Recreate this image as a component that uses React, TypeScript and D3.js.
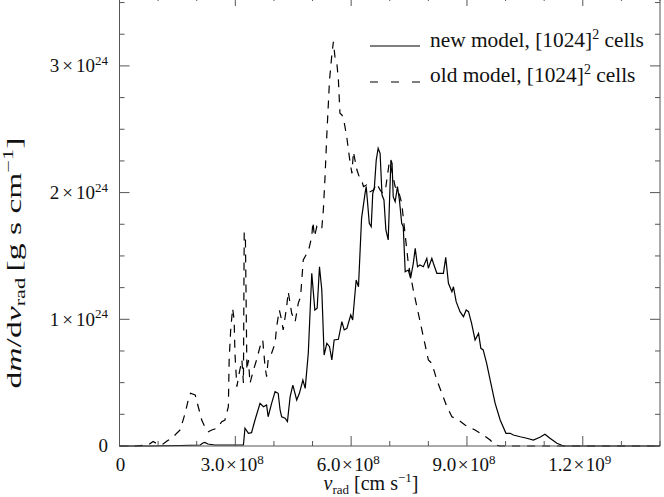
import React from "react";
import * as d3 from "d3";

// velocity in units of 1e8 cm/s, dm/dv in units of 1e24 g s/cm
const newX = [0, 0.79, 1.57, 2.09, 2.16, 2.21, 2.29, 2.47, 2.73, 2.99, 3.15, 3.21, 3.25, 3.34, 3.42, 3.51, 3.64, 3.73, 3.81, 3.85, 3.94, 4.03, 4.11, 4.16, 4.2, 4.29, 4.35, 4.42, 4.49, 4.59, 4.66, 4.75, 4.81, 4.89, 4.98, 5.06, 5.12, 5.18, 5.24, 5.3, 5.37, 5.44, 5.5, 5.56, 5.67, 5.76, 5.82, 5.89, 5.99, 6.04, 6.13, 6.19, 6.27, 6.36, 6.39, 6.42, 6.47, 6.52, 6.56, 6.6, 6.65, 6.7, 6.75, 6.8, 6.85, 6.9, 6.96, 7.03, 7.06, 7.09, 7.14, 7.2, 7.25, 7.31, 7.35, 7.4, 7.48, 7.54, 7.61, 7.66, 7.72, 7.78, 7.87, 7.96, 8.0, 8.09, 8.13, 8.22, 8.3, 8.39, 8.45, 8.52, 8.61, 8.65, 8.72, 8.82, 8.91, 8.98, 9.04, 9.12, 9.21, 9.3, 9.36, 9.42, 9.51, 9.6, 9.73, 9.86, 10.01, 10.12, 10.2, 10.38, 10.55, 10.72, 10.89, 11.02, 11.15, 11.33, 11.5, 11.93, 14.0];
const newY = [0, 0, 0.004, 0.008, 0.024, 0.028, 0.016, 0.008, 0.008, 0.008, 0.008, 0.008, 0.14, 0.1, 0.105, 0.205, 0.337, 0.31, 0.324, 0.231, 0.337, 0.429, 0.416, 0.284, 0.231, 0.219, 0.192, 0.389, 0.481, 0.363, 0.416, 0.521, 0.455, 0.732, 1.363, 1.073, 1.087, 1.415, 1.231, 0.718, 0.811, 0.784, 0.679, 0.837, 0.842, 0.981, 0.916, 0.929, 1.034, 0.994, 1.31, 1.257, 1.797, 1.994, 2.047, 1.942, 1.758, 1.731, 1.994, 2.034, 2.257, 2.35, 2.31, 1.981, 1.942, 1.705, 1.626, 2.257, 2.231, 1.968, 1.928, 2.047, 1.942, 1.758, 1.731, 1.376, 1.389, 1.324, 1.442, 1.56, 1.415, 1.429, 1.415, 1.481, 1.403, 1.481, 1.442, 1.363, 1.363, 1.363, 1.489, 1.284, 1.218, 1.257, 1.139, 1.06, 1.021, 1.073, 1.06, 0.968, 0.837, 0.889, 0.771, 0.758, 0.653, 0.521, 0.337, 0.205, 0.1, 0.1, 0.087, 0.073, 0.061, 0.047, 0.069, 0.092, 0.061, 0.021, 0, 0, 0];

const oldX = [0, 0.4, 0.74, 0.87, 1.0, 1.13, 1.23, 1.39, 1.49, 1.57, 1.7, 1.78, 1.84, 1.96, 2.04, 2.13, 2.21, 2.3, 2.39, 2.52, 2.65, 2.73, 2.82, 2.84, 2.88, 2.93, 2.97, 2.99, 3.04, 3.1, 3.17, 3.21, 3.23, 3.26, 3.3, 3.34, 3.38, 3.47, 3.55, 3.64, 3.71, 3.77, 3.81, 3.85, 3.94, 4.03, 4.07, 4.14, 4.2, 4.24, 4.33, 4.37, 4.46, 4.55, 4.63, 4.69, 4.76, 4.83, 4.89, 4.98, 5.01, 5.05, 5.11, 5.15, 5.24, 5.28, 5.32, 5.37, 5.44, 5.5, 5.54, 5.58, 5.63, 5.67, 5.71, 5.76, 5.8, 5.84, 5.89, 5.93, 5.97, 6.02, 6.06, 6.1, 6.15, 6.21, 6.27, 6.32, 6.4, 6.49, 6.58, 6.66, 6.75, 6.82, 6.9, 6.99, 7.05, 7.14, 7.22, 7.31, 7.4, 7.48, 7.61, 7.74, 7.87, 8.0, 8.09, 8.22, 8.35, 8.48, 8.61, 8.78, 8.95, 9.21, 9.42, 9.6, 9.73, 9.86, 11.41, 14.0];
const oldY = [0, 0, 0.008, 0.036, 0.012, 0.016, 0.039, 0.071, 0.103, 0.126, 0.258, 0.363, 0.416, 0.403, 0.31, 0.205, 0.152, 0.113, 0.126, 0.14, 0.192, 0.205, 0.31, 0.679, 0.916, 1.087, 0.994, 0.732, 0.468, 0.574, 0.679, 0.497, 1.681, 1.681, 0.6, 0.679, 0.495, 0.6, 0.679, 0.784, 0.837, 0.626, 0.547, 0.679, 0.732, 0.811, 0.942, 1.073, 0.994, 0.916, 1.099, 1.218, 1.047, 0.981, 1.126, 1.178, 1.468, 1.507, 1.534, 1.652, 1.77, 1.652, 1.731, 1.705, 1.718, 1.863, 2.099, 2.455, 2.889, 3.086, 3.191, 3.073, 3.02, 2.889, 2.626, 2.613, 2.586, 2.52, 2.431, 2.336, 2.244, 2.152, 2.323, 2.257, 2.178, 2.125, 2.099, 2.047, 2.06, 2.007, 2.021, 2.073, 2.021, 1.994, 2.047, 2.244, 2.178, 2.047, 2.021, 1.916, 1.665, 1.442, 1.231, 1.047, 0.863, 0.679, 0.653, 0.521, 0.416, 0.31, 0.231, 0.205, 0.166, 0.126, 0.087, 0.047, 0.008, 0, 0, 0];

const xMajorTicks = [0, 3, 6, 9, 12];
const xTickMantissa = ["0", "3.0", "6.0", "9.0", "1.2"];
const xTickExponent = ["", "8", "8", "8", "9"];
const yMajorTicks = [0, 1, 2, 3];
const yTickMantissa = ["0", "1", "2", "3"];
const yTickExponent = ["", "24", "24", "24"];
const legendLabels = ["new model, [1024]", "old model, [1024]"];

const FONT = "Liberation Serif, DejaVu Serif, Times New Roman, serif";

export default function App() {
  const W = 664, H = 497;
  const left = 119.5, right = 660, bottom = 446, top = -4;
  const x = d3.scaleLinear().domain([0, 14]).range([left, right]);
  const y = d3.scaleLinear().domain([0, (bottom - top) / 126.7]).range([bottom, top]);

  const line = d3.line<[number, number]>().x(d => x(d[0])).y(d => y(d[1]));
  const newPts = newX.map((v, i) => [v, newY[i]] as [number, number]);
  const oldPts = oldX.map((v, i) => [v, oldY[i]] as [number, number]);

  const xMinor = d3.range(0, 14.001, 1);
  const yMinor = d3.range(0, 3.51, 0.25);
  const axisColor = "#555";

  const tickFont = 19;
  const supFont = 13;
  const txt = { fontFamily: FONT } as React.CSSProperties;

  return (
    <svg width={W} height={H} style={{ position: "absolute", left: 0, top: 0, background: "#fff", fontFamily: FONT }}>
      {/* curves */}
      <path d={line(oldPts) || ""} fill="none" stroke="#000" strokeWidth={1.2} strokeDasharray="8,7" />
      <path d={line(newPts) || ""} fill="none" stroke="#000" strokeWidth={1.2} />

      {/* frame */}
      <rect x={left} y={top} width={right - left} height={bottom - top} fill="none" stroke={axisColor} strokeWidth={1} />

      {/* x ticks bottom & top */}
      {xMinor.map(v => {
        const major = xMajorTicks.includes(Math.round(v));
        const len = major ? 10 : 5;
        return (
          <g key={"xt" + v}>
            <line x1={x(v)} x2={x(v)} y1={bottom} y2={bottom - len} stroke={axisColor} />
            <line x1={x(v)} x2={x(v)} y1={top} y2={top + len} stroke={axisColor} />
          </g>
        );
      })}
      {/* y ticks left & right */}
      {yMinor.map(v => {
        const major = yMajorTicks.includes(v);
        const len = major ? 10 : 5;
        return (
          <g key={"yt" + v}>
            <line x1={left} x2={left + len} y1={y(v)} y2={y(v)} stroke={axisColor} />
            <line x1={right} x2={right - len} y1={y(v)} y2={y(v)} stroke={axisColor} />
          </g>
        );
      })}

      {/* x tick labels */}
      {xMajorTicks.map((v, i) => (
        <text key={"xl" + v} x={x(v) - (i === 0 ? -1 : 3)} y={471} textAnchor="middle" fontSize={tickFont} fill="#111" style={txt}>
          {xTickExponent[i] === "" ? (
            xTickMantissa[i]
          ) : (
            <>
              {xTickMantissa[i]}
              <tspan dx={1.5}>×</tspan>
              <tspan dx={1.5}>10</tspan>
              <tspan dy={-7.5} fontSize={supFont}>{xTickExponent[i]}</tspan>
            </>
          )}
        </text>
      ))}

      {/* y tick labels */}
      {yMajorTicks.map((v, i) => (
        <text key={"yl" + v} x={108} y={y(v) + (i === 0 ? 6 : 6.5)} textAnchor="end" fontSize={tickFont} fill="#111" style={txt}>
          {yTickExponent[i] === "" ? (
            yTickMantissa[i]
          ) : (
            <>
              {yTickMantissa[i]}
              <tspan dx={3}>×</tspan>
              <tspan dx={3}>10</tspan>
              <tspan dy={-7.5} fontSize={supFont}>{yTickExponent[i]}</tspan>
            </>
          )}
        </text>
      ))}

      {/* x axis title */}
      <text x={371} y={490} textAnchor="middle" fontSize={20} fill="#111" style={txt}>
        <tspan fontStyle="italic">v</tspan>
        <tspan dy={4} fontSize={13}>rad</tspan>
        <tspan dy={-4} dx={5}>[cm s</tspan>
        <tspan dy={-8} fontSize={13}>−1</tspan>
        <tspan dy={8}>]</tspan>
      </text>

      {/* y axis title */}
      <text transform="translate(21,263) rotate(-90) scale(1.6,1)" textAnchor="middle" fontSize={21} fill="#111" style={txt}>
        d
        <tspan fontStyle="italic">m</tspan>
        <tspan>/d</tspan>
        <tspan fontStyle="italic">v</tspan>
        <tspan dy={4} fontSize={14}>rad</tspan>
        <tspan dy={-4} dx={4}>[g s cm</tspan>
        <tspan dy={-8} fontSize={14}>−1</tspan>
        <tspan dy={8}>]</tspan>
      </text>

      {/* legend */}
      <line x1={370} x2={420} y1={46} y2={46} stroke="#000" strokeWidth={1.2} />
      <line x1={370} x2={420} y1={82} y2={82} stroke="#000" strokeWidth={1.2} strokeDasharray="8,13" />
      {legendLabels.map((t, i) => (
        <text key={"lg" + i} x={430} y={i === 0 ? 47 : 82} fontSize={21.4} fill="#111" style={txt}>
          {t}
          <tspan dy={-8} fontSize={14}>2</tspan>
          <tspan dy={8}> cells</tspan>
        </text>
      ))}
    </svg>
  );
}
